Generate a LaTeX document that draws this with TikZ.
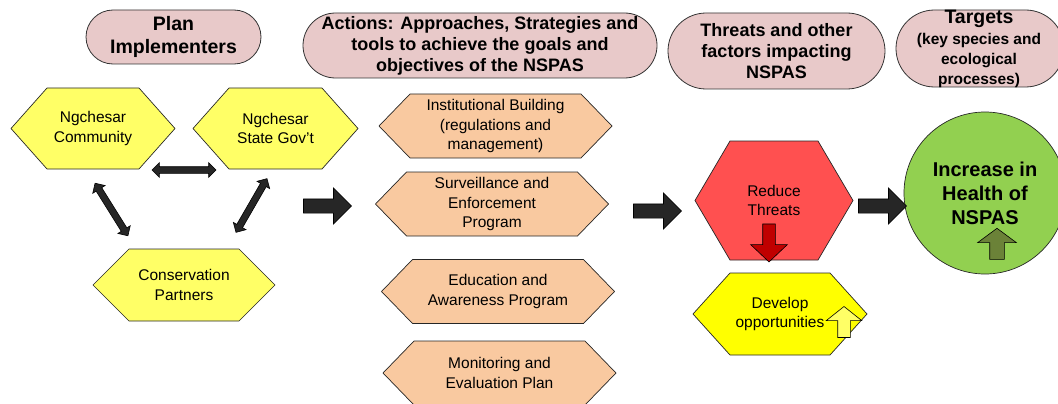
\documentclass[tikz,border=0pt]{standalone}
\usepackage{fontspec}
\setmainfont{Liberation Sans}
\usetikzlibrary{shapes.misc, shapes.arrows}

\definecolor{pillpink}{HTML}{E8C9C9}
\definecolor{implyellow}{HTML}{FFFF66}
\definecolor{actorange}{HTML}{F9C9A0}
\definecolor{threatred}{HTML}{FF5050}
\definecolor{downred}{HTML}{C00000}
\definecolor{oppyellow}{HTML}{FFFF00}
\definecolor{healthgreen}{HTML}{92D050}
\definecolor{upolive}{HTML}{6B8238}
\definecolor{arrowgrey}{HTML}{262626}

\tikzset{
    pill/.style={rounded rectangle, draw=black!80, fill=pillpink, line width=0.8pt,
        inner sep=0pt, align=center, font=\bfseries\fontsize{18}{21}\selectfont},
    hexline/.style={draw=black!85, line width=0.7pt, line join=miter},
    hextext/.style={inner sep=0pt, align=center, font=\fontsize{15.5}{19.5}\selectfont},
    fatarrow/.style={single arrow, draw=black, fill=arrowgrey, line width=0.6pt,
        inner xsep=0pt, inner ysep=6.75pt, single arrow head extend=11pt, minimum height=48pt},
    linkarrow/.style={double arrow, draw=black, fill=arrowgrey, line width=0.6pt,
        inner xsep=0pt, inner ysep=3pt, double arrow head extend=4pt, minimum height=62pt},
    markarrow/.style={single arrow, draw=black, line width=0.6pt, inner xsep=0pt,
        inner ysep=6pt, minimum height=31pt}
}

% name, centre x, centre y, half width, half height, inset, fill, text
\newcommand{\hexbox}[8]{%
    \draw[hexline, fill=#7] ({#2-#4},#3) -- ({#2-#4+#6},{#3-#5}) -- ({#2+#4-#6},{#3-#5})
        -- ({#2+#4},#3) -- ({#2+#4-#6},{#3+#5}) -- ({#2-#4+#6},{#3+#5}) -- cycle;
    \node[hextext] (#1) at (#2,#3) {#8};
}

\begin{document}
\begin{tikzpicture}[x=1pt, y=-1pt]
    \useasboundingbox (0,0) rectangle (1058,404);

    % column heads
    \node[pill, minimum width=175pt, minimum height=54pt,
        font=\bfseries\fontsize{19.5}{23}\selectfont] (planhead) at (173.5,37) {Plan\\Implementers};
    \node[pill, minimum width=354pt, minimum height=65pt] (acthead) at (480,45.5)
        {Actions: Approaches, Strategies and\\tools to achieve the goals and\\objectives of the NSPAS};
    \node[pill, minimum width=217pt, minimum height=76pt] (thrhead) at (776.5,51)
        {Threats and other\\factors impacting\\NSPAS};
    \node[pill, minimum width=168pt, minimum height=77pt] (tgtbox) at (980,48.5) {};
    \node[align=center, inner sep=0pt, font=\bfseries\fontsize{15.5}{20}\selectfont] (tgthead) at (979,49)
        {{\fontsize{19.5}{20}\selectfont Targets}\\[1pt](key species and\\ecological\\processes)};

    % implementers
    \hexbox{community}{93}{128.5}{82}{40.5}{36}{implyellow}{Ngchesar\\Community}
    \hexbox{stategov}{275.5}{128.5}{82.5}{40.5}{36}{implyellow}{Ngchesar\\State Gov't}
    \hexbox{partners}{184}{285}{91}{36}{36}{implyellow}{Conservation\\Partners}

    \node[linkarrow, minimum height=64pt] (link1) at (184,170) {};
    \node[linkarrow, rotate=-58] (link2) at (111.5,209.5) {};
    \node[linkarrow, rotate=60] (link3) at (251.5,205.5) {};

    % actions
    \foreach \nm/\cx/\cy/\txt in {inst/495.5/126/{Institutional Building\\(regulations and\\management)},
        surv/492/204/{Surveillance and\\Enforcement\\Program},
        educ/498/291.5/{Education and\\Awareness Program},
        moni/499.5/373/{Monitoring and\\Evaluation Plan}} {
        \hexbox{\nm}{\cx}{\cy}{116.5}{32}{31}{actorange}{\txt}
    }

    % threats
    \hexbox{reduce}{774}{200.5}{79}{59.5}{35}{threatred}{\fontsize{15.5}{18.5}\selectfont Reduce\\Threats}
    \node[markarrow, fill=downred, rotate=-90, minimum height=38pt,
        single arrow head extend=12pt, single arrow tip angle=93] (downmark) at (769,240) {};
    \hexbox{develop}{780}{314}{87}{41}{37}{oppyellow}{Develop\\opportunities}
    \node[markarrow, fill=implyellow, rotate=90, single arrow head extend=11.5pt,
        single arrow tip angle=103] (oppmark) at (844,324.5) {};

    % target
    \node[circle, draw=black!85, fill=healthgreen, line width=0.7pt, minimum size=162pt, inner sep=0pt,
        align=center, font=\bfseries\fontsize{20}{24}\selectfont] (health) at (985,193) {Increase in\\Health of\\NSPAS};
    \node[markarrow, fill=upolive, rotate=90, inner ysep=7pt, single arrow head extend=12pt,
        single arrow tip angle=107] (upmark) at (997,246.5) {};

    % flow between columns
    \node[fatarrow] (go1) at (324,206) {};
    \node[fatarrow] (go2) at (654,211) {};
    \node[fatarrow] (go3) at (879,206) {};
\end{tikzpicture}
\end{document}
